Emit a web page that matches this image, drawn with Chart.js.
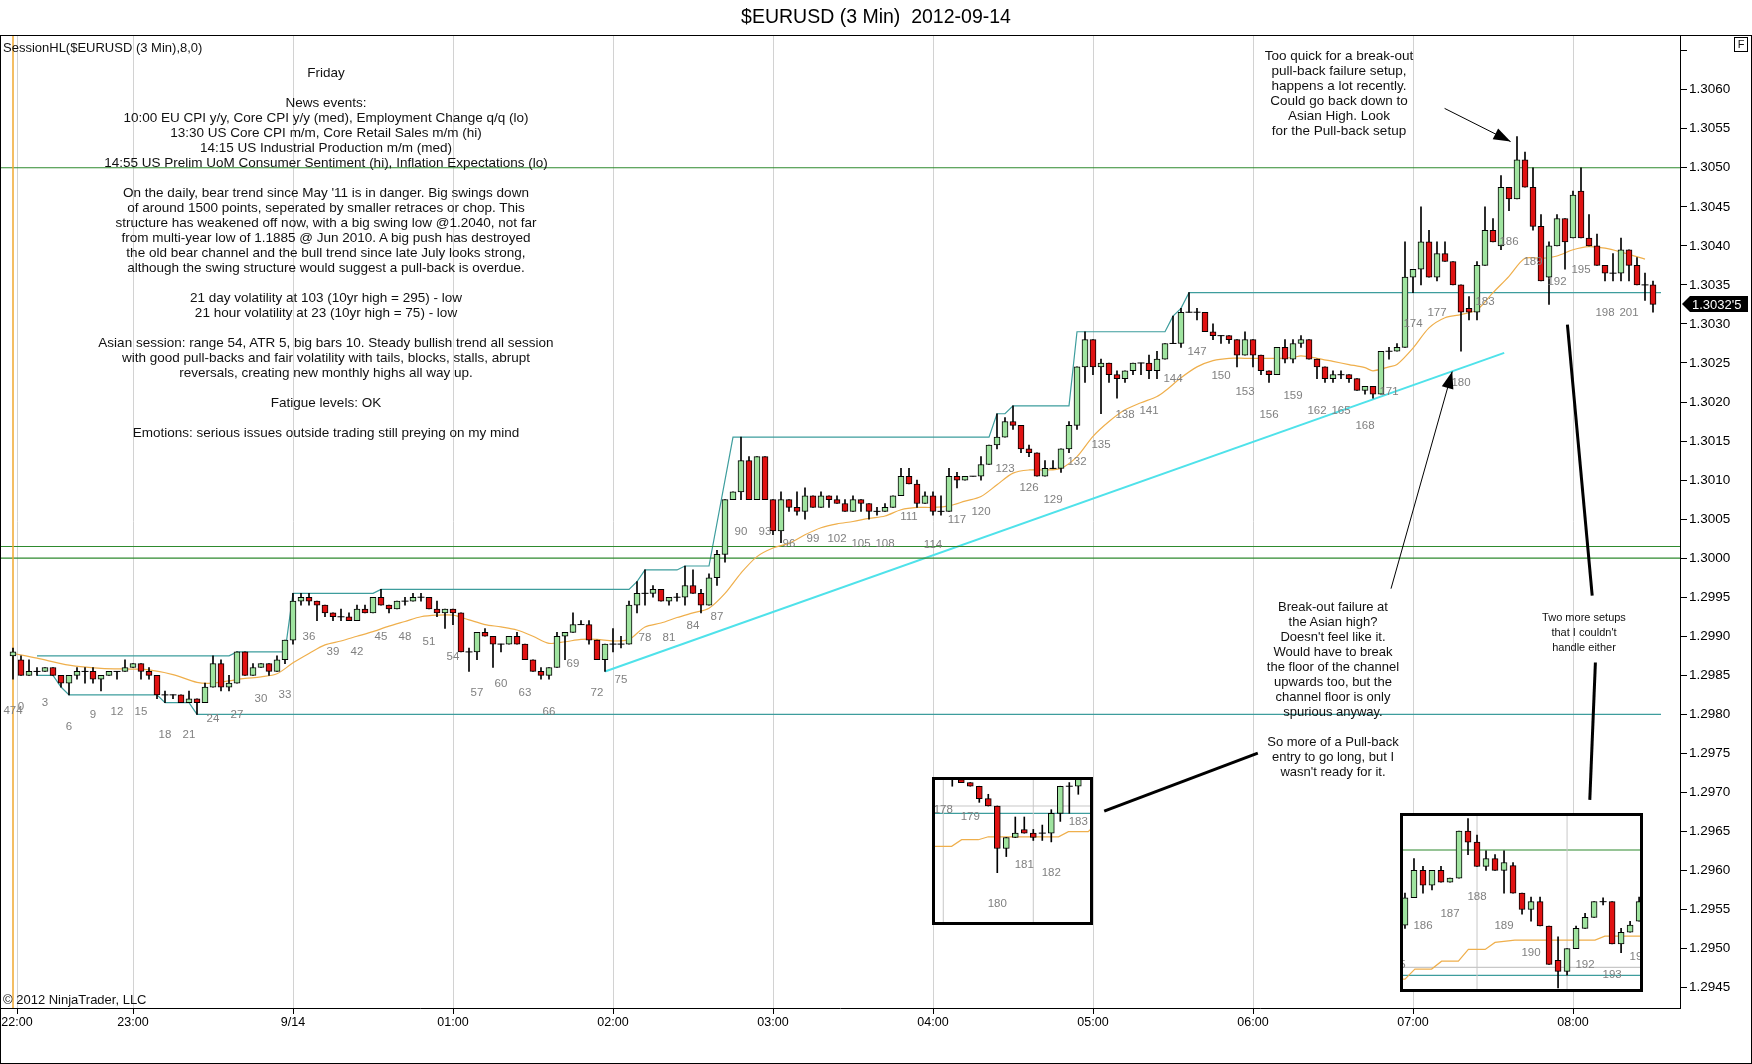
<!DOCTYPE html>
<html>
<head>
<meta charset="utf-8">
<script src="https://cdn.jsdelivr.net/npm/chart.js@4.4.1/dist/chart.umd.min.js"></script>
<style>
html,body{margin:0;padding:0;background:#fff;}
body{width:1752px;height:1064px;position:relative;overflow:hidden;font-family:Arial,"Liberation Sans",sans-serif;color:#111;}
#main{position:absolute;left:0;top:0;}
#frame{position:absolute;left:0;top:35px;width:1752px;height:1029px;box-sizing:border-box;border:1px solid #000;pointer-events:none;}
.t{position:absolute;font-size:13px;line-height:15px;white-space:pre;}
.note{position:absolute;font-size:13px;line-height:15px;text-align:center;white-space:pre;transform:translateX(-50%);}
#title{position:absolute;left:0;top:4px;width:1752px;text-align:center;font-size:19.5px;line-height:24px;white-space:pre;color:#000;}
#fbox{position:absolute;left:1734px;top:37px;width:14px;height:15px;box-sizing:border-box;border:1px solid #000;font-size:11px;line-height:13px;text-align:center;}
.inset{position:absolute;box-sizing:border-box;border:3px solid #000;background:#fff;}
.inset canvas{display:block;}
</style>
</head>
<body>
<canvas id="main" width="1752" height="1064"></canvas>
<div id="frame"></div>
<div id="title">$EURUSD (3 Min)  2012-09-14</div>
<div id="fbox">F</div>
<div class="t" style="left:3px;top:40px;">SessionHL($EURUSD (3 Min),8,0)</div>
<div class="t" style="left:3px;top:992px;">© 2012 NinjaTrader, LLC</div>

<div class="note" style="left:326px;top:65px;font-size:13.5px;">Friday

News events:
10:00 EU CPI y/y, Core CPI y/y (med), Employment Change q/q (lo)
13:30 US Core CPI m/m, Core Retail Sales m/m (hi)
14:15 US Industrial Production m/m (med)
14:55 US Prelim UoM Consumer Sentiment (hi), Inflation Expectations (lo)

On the daily, bear trend since May '11 is in danger. Big swings down
of around 1500 points, seperated by smaller retraces or chop. This
structure has weakened off now, with a big swing low @1.2040, not far
from multi-year low of 1.1885 @ Jun 2010. A big push has destroyed
the old bear channel and the bull trend since late July looks strong,
although the swing structure would suggest a pull-back is overdue.

21 day volatility at 103 (10yr high = 295) - low
21 hour volatility at 23 (10yr high = 75) - low

Asian session: range 54, ATR 5, big bars 10. Steady bullish trend all session
with good pull-backs and fair volatility with tails, blocks, stalls, abrupt
reversals, creating new monthly highs all way up.

Fatigue levels: OK

Emotions: serious issues outside trading still preying on my mind</div>

<div class="note" style="left:1339px;top:48px;font-size:13.5px;">Too quick for a break-out
pull-back failure setup,
happens a lot recently.
Could go back down to
Asian High. Look
for the Pull-back setup</div>

<div class="note" style="left:1333px;top:599px;">Break-out failure at
the Asian high?
Doesn't feel like it.
Would have to break
the floor of the channel
upwards too, but the
channel floor is only
spurious anyway.

So more of a Pull-back
entry to go long, but I
wasn't ready for it.</div>

<div class="note" style="left:1584px;top:610px;font-size:11px;">Two more setups
that I couldn't
handle either</div>

<div class="inset" style="left:932px;top:777px;width:161px;height:148px;"><canvas id="inset1" width="155" height="142"></canvas></div>
<div class="inset" style="left:1400px;top:813px;width:243px;height:179px;"><canvas id="inset2" width="237" height="173"></canvas></div>

<script>
// prices are noted in pips above 1.3000
const PIP = 0.0001, BASE = 1.3;
const px = p => +(BASE + p * PIP).toFixed(6);
const FONT = 'Arial, "Liberation Sans", sans-serif';
const UP = '#9fe39f', DOWN = '#e01212';

// === 3 min bars, first one is bar 474 of the previous session (drawn at -1) ===
const PREV_LAST = 474;
const open = [
  -12.5,-13,-15,-14.5,-14.5,-14,-15,-16,-15,-14.5,
  -14.5,-15.5,-15,-14.5,-14.5,-14,-13.5,-14.5,-15,-17.5,
  -17.5,-17.5,-18.5,-18,-18.5,-16.5,-13.5,-16.5,-16,-12,
  -15,-14,-13.5,-14.5,-13,-10.5,-5.5,-5,-5.5,-6,
  -7,-7.5,-7.5,-8,-6.5,-7,-5,-6,-6.5,-5.5,
  -5.5,-5,-5,-6.5,-7,-6.5,-7,-12,-12,-9.5,
  -10,-11,-11,-10,-11,-13,-14.5,-15,-14,-10,
  -9.5,-8.5,-8.5,-10.5,-13,-11,-11,-11,-6,-4.5,
  -4.5,-4,-5.5,-5,-5,-3.5,-4.5,-6,-2.5,0.5,
  7.5,8.5,12.5,7.5,13,7.5,3.5,7.5,6.5,6,
  8,6.5,8,7.5,7,6,7.5,7,6,6,
  6.5,8,10.5,9.5,7,8,6,6,10.5,10,
  10.5,10.5,12,14.5,15.5,17.5,17,14,13.5,10.5,
  11.5,11.5,14,17,24.5,28,24.5,25,23.5,23,
  24,25,25,24,25.5,27.5,27.5,31.5,31.5,31.5,
  29,28.5,28.5,28,26,28,26,24,23.5,27,
  25.5,27.5,28,25.5,24.5,23,23.5,23.5,23,21.5,
  22,21,26.5,26.5,27,36,37,40.5,36,39,
  38,35,32,31.5,37.5,42,40,47.5,46,51,
  47.5,42.5,36,40,43.5,41,47,41,40,37.5,
  36.5,36.5,39.5,37.5,35,35
];
const high = [
  -11.5,-12.5,-13,-14,-14,-14,-15,-15,-14,-14,
  -14,-15,-14.5,-14.5,-13,-13.5,-13.5,-14,-15,-17,
  -17.5,-17.5,-17,-18,-16,-12.5,-13,-15,-12,-12,
  -13.5,-13.5,-13.5,-12.5,-10.5,-4.5,-4.5,-4.5,-5.5,-6,
  -7,-6.5,-7,-6,-6,-5,-4,-6,-5.5,-5,
  -4.5,-4.5,-5,-5.5,-6.5,-6.5,-7,-11.5,-9.5,-9,
  -10,-11,-10,-9.5,-11,-13,-14,-14,-9.5,-9.5,
  -7,-8,-8,-10.5,-11,-9,-10,-5.5,-3,-1.5,
  -3.5,-4,-5,-4.5,-1,-1.5,-4,-2,1,7.5,
  8.5,15.5,13,13,13,7.5,8.5,7.5,8.5,9,
  8,8.5,8,8,7.5,8,7.5,7,6.5,7,
  8,11.5,11.5,10,8.5,8.5,8,11.5,11,10.5,
  10.5,13,14.5,18.5,18,19.5,17,14.5,13.5,12.5,
  12.5,14,17.5,24.5,29,28,25.5,25,24,24,
  25,25,26,26.5,27.5,31,32,34,32,31.5,
  30,28.5,28.5,28,29,28,26,24,27,28,
  28,28.5,28,25.5,24.5,24,24,23.5,23,22,
  22,26.5,27,27.5,40.5,37,45,42,40.5,40.5,
  38,35,33.5,38,45,43.5,49,47.5,54,52,
  50,44,40.5,44,43.5,47,50,44,41.5,37.5,
  39,41,39.5,38.5,36.5,35.5
];
const low = [
  -15.5,-15,-15,-15,-14.5,-15,-16.5,-17.5,-15.5,-16,
  -16,-17,-15,-15.5,-14.5,-14,-15.5,-15.5,-18,-18.5,
  -18,-18.5,-18.5,-20,-18.5,-16.5,-17,-17,-16,-15,
  -15,-14,-15,-14.5,-13.5,-11,-6,-6,-8,-7.5,
  -8,-8,-8,-8,-7,-7,-6,-7,-6.5,-6,
  -5.5,-5.5,-6.5,-7.5,-9,-8.5,-12,-14.5,-13,-10,
  -14,-12,-11,-11,-13,-14.5,-15.5,-15.5,-14,-13,
  -9.5,-8.5,-11,-13,-14.5,-12,-11.5,-11,-7,-6,
  -5,-5.5,-6,-5.5,-6,-4.5,-7,-6,-3.5,-0.5,
  7.5,7.5,7.5,7.5,7.5,3,2,6,5.5,5,
  6.5,6.5,6.5,7,6,6,6,5,5.5,6,
  6.5,8,9.5,6.5,7,5.5,5.5,6,9,10,
  10.5,10,12,14,15.5,16.5,13.5,13,10.5,10.5,
  11.5,11,13.5,16.5,22.5,23.5,18.5,22.5,20.5,22.5,
  23.5,23.5,23,23,25.5,27.5,27,31.5,30.5,29,
  28,27.5,27.5,24.5,26,24.5,23.5,22.5,23.5,25,
  25,27,25.5,23,22.5,22.5,23,22.5,21.5,21,
  20.5,21,25.5,26.5,27,34,35,36,35.5,38,
  35,26.5,30.5,30.5,37.5,40.5,39.5,44.5,46,47.5,
  42,35.5,32.5,40,37,41,41,40,37.5,35.5,
  35.5,35.5,35.5,35,33,31.5
];
const close = [
  -12,-15,-14.5,-14.5,-14,-15,-16,-15,-14.5,-14.5,
  -15.5,-15,-14.5,-14.5,-14,-13.5,-14.5,-15,-17.5,-17.5,
  -17.5,-18.5,-18,-18.5,-16.5,-13.5,-16.5,-16,-12,-15,
  -14,-13.5,-14.5,-13,-10.5,-5.5,-5,-5.5,-6,-7,
  -7.5,-7.5,-8,-6.5,-7,-5,-6,-6.5,-5.5,-5.5,
  -5,-5,-6.5,-7,-6.5,-7,-12,-12,-9.5,-10,
  -11,-11,-10,-11,-13,-14.5,-15,-14,-10,-9.5,
  -8.5,-8.5,-10.5,-13,-11,-11,-11,-6,-4.5,-4.5,
  -4,-5.5,-5,-5,-3.5,-4.5,-6,-2.5,0.5,7.5,
  8.5,12.5,7.5,13,7.5,3.5,7.5,6.5,6,8,
  6.5,8,7.5,7,6,7.5,7,6,6,6.5,
  8,10.5,9.5,7,8,6,6,10.5,10,10.5,
  10.5,12,14.5,15.5,17.5,17,14,13.5,10.5,11.5,
  11.5,14,17,24.5,28,24.5,25,23.5,23,24,
  25,25,24,25.5,27.5,27.5,31.5,31.5,31.5,29,
  28.5,28.5,28,26,28,26,24,23.5,27,25.5,
  27.5,28,25.5,24.5,23,23.5,23.5,23,21.5,22,
  21,26.5,26.5,27,36,37,40.5,36,39,38,
  35,31.5,31.5,37.5,42,40.5,47.5,46,51,47.5,
  42.5,35.5,40,43.5,40.5,46.5,41,40,37.5,36.5,
  36.5,39.5,37.5,35,35,32.5
];

// bar-count labels (every 3rd bar) and where they sit
const labelNums = [474,0,3,6,9,12,15,18,21,24,27,30,33,36,39,42,45,48,51,54,57,60,63,66,69,72,75,78,81,84,87,90,93,96,99,102,105,108,111,114,117,120,123,126,129,132,135,138,141,144,147,150,153,156,159,162,165,168,171,174,177,180,183,186,189,192,195,198,201];
const labelPips = [-19.5,-19,-18.5,-21.6,-20,-19.7,-19.7,-22.6,-22.6,-20.6,-20,-18,-17.5,-10.1,-12,-12,-10.1,-10.1,-10.7,-12.6,-17.2,-16.1,-17.2,-19.7,-13.5,-17.2,-15.6,-10.2,-10.2,-8.6,-7.5,3.4,3.4,1.9,2.5,2.5,1.9,1.9,5.3,1.7,4.9,6,11.5,9,7.5,12.4,14.5,18.4,18.9,23,26.4,23.4,21.3,18.4,20.8,18.9,18.9,17,21.3,30,31.4,22.5,32.8,40.5,38,35.4,36.9,31.4,31.4];

// orange moving average, read every couple of bars
const emaBars = [-1,2,6,10,14,16,19,22,24,26,28,30,32,34,36,38,40,42,44,46,48,50,52,54,56,58,60,62,64,66,68,70,72,74,76,78,80,82,84,86,88,90,92,94,96,98,100,102,104,106,108,110,112,114,116,118,120,122,124,126,128,130,132,134,136,138,140,142,143,145,147,149,151,153,155,157,159,160,162,164,166,168,169,171,172,174,176,178,180,182,184,186,188,190,192,194,196,198,200,203];
const emaPips = [-12.2,-12.8,-13.7,-14.1,-14.2,-14.3,-14.9,-15.9,-16.0,-15.7,-15.4,-15.2,-14.8,-13.4,-12.2,-11.1,-10.6,-10.0,-9.4,-8.7,-8.1,-7.5,-7.3,-7.3,-7.9,-8.5,-8.8,-9.2,-10.0,-10.9,-10.7,-10.4,-10.4,-10.6,-10.4,-8.8,-8.3,-7.6,-7.0,-6.4,-4.5,-1.9,0.2,1.3,1.9,3.0,3.9,4.4,4.7,5.1,5.4,6.2,6.5,6.5,6.7,7.3,7.9,9.4,10.9,11.3,11.3,11.5,13.0,15.6,17.5,19.0,19.9,20.7,21.4,23.1,24.5,25.3,25.6,25.6,25.6,25.6,25.7,25.9,25.6,25.2,24.8,24.4,24.0,24.5,24.8,26.9,29.5,30.8,31.2,31.8,34.0,36.1,38.4,38.4,38.7,39.5,39.9,39.7,39.2,38.3];

// SessionHL steps (Asian session high / low)
const hiBars = [2,26,27,33,34,44,45,76,77,78,82,83,86,89,121,122,123,124,131,132,143,144,145,146,205];
const hiPips = [-12.5,-12.5,-12,-12,-4.5,-4.5,-4,-4,-3,-1.5,-1.5,-1,-1,15.5,15.5,18.5,18.5,19.5,19.5,29,29,31,32,34,34];
const loBars = [2,4,5,6,17,18,21,22,205];
const loPips = [-15,-15,-16.5,-17.5,-17.5,-18.5,-18.5,-20,-20];

const greenLevels = [50, 1.5, 0];          // 1.3050, 1.30015, 1.3000
const trendBars = [73, 185.4];             // channel floor
const trendPips = [-14.5, 26.3];

const xTickBars = [-0.5,14,34,54,74,94,114,134,154,174,194];
const xTickLabels = ['22:00','23:00','9/14','01:00','02:00','03:00','04:00','05:00','06:00','07:00','08:00'];
const yTickPips = [-55,-50,-45,-40,-35,-30,-25,-20,-15,-10,-5,0,5,10,15,20,25,30,35,40,45,50,55,60,65];
const yTickLabels = ['1.2945','1.2950','1.2955','1.2960','1.2965','1.2970','1.2975','1.2980','1.2985','1.2990','1.2995','1.3000','1.3005','1.3010','1.3015','1.3020','1.3025','1.3030','1.3035','1.3040','1.3045','1.3050','1.3055','1.3060',''];

// === inset 1 (lower timeframe around bars 178-183) ===
const in1Open  = [40,38.6,38.2,37.7,36,35,29.2,30.7,31.8,31.3,31.3,31.3,34,37.7,37.7];
const in1High  = [40,38.6,38.2,37.7,36.6,35,30.7,33.5,33.5,31.8,32.4,34.5,37.7,38.2,39];
const in1Low   = [37.7,38.2,37.7,35.5,35,25.9,28.1,30.7,31.3,30.3,30.3,30.1,32.9,34,36.6];
const in1Close = [39,38.2,37.7,36,35,29.2,30.7,31.3,31.3,30.7,31.3,34,37.7,37.7,38.8];
const in1EmaK = [-0.93,0.93,2.04,3.9,5.0,12.8,13.9,16.1,16.5];
const in1EmaPips = [29.5,29.5,30.4,30.4,30.8,30.8,31.5,31.5,32.0];
const in1LabelNums = [178,179,180,181,182,183];
const in1LabelK = [0,3,6,9,12,15];
const in1LabelPips = [34.5,33.5,21.7,27.0,25.9,32.9];

// === inset 2 (lower timeframe around bars 185-194) ===
const in2Open  = [40.4,43.9,47.4,45.5,47.4,45.9,46.4,52.4,51,47.9,48.9,47.4,48,44.5,42.4,43.4,40.3,35.9,34.5,37.4,40,41.4,43.4,43.4,38,39.5,40.9];
const in2High  = [44.5,48.9,47.9,47.4,47.9,46.4,52.4,54,51.9,49.9,49.4,49.9,48.4,44.5,44,44,40.3,38.9,37.4,40.3,41.9,43.4,43.9,43.4,40,40.9,44];
const in2Low   = [40,43.9,44.5,44.9,45.9,45.9,46.4,49.4,47.9,47.4,47.4,44.5,44.5,41.8,40.9,40.3,35.4,32.4,34,37.4,40,41.4,43,38,36.9,39.5,40.9];
const in2Close = [43.9,47.4,45.5,47.4,45.9,46.4,52.4,51,47.9,48.9,47.4,48.4,44.5,42.4,43.4,40.3,35.4,34.5,37.4,40,41.4,43.4,43.4,38,39.5,40.4,43.4];
const in2EmaK = [0.6,1.0,2.1,3.96,5.07,6.93,8.04,9.9,11.0,13.2,22.1,23.2,27.3];
const in2EmaPips = [33.5,33.5,34.8,34.8,35.8,35.8,37.3,37.3,38.2,38.5,38.5,39.0,39.0];
const in2LabelNums = [185,186,187,188,189,190,192,193,194];
const in2LabelK = [0,3,6,9,12,15,21,24,27];
const in2LabelPips = [35.4,40.3,41.9,44.0,40.3,36.9,35.3,34.0,36.4];

// === helpers ===
function candleSets(O, H, L, C, xOf, w){
  const body=[], bodyCol=[], doji=[], wick=[];
  O.forEach((o,i)=>{
    const x = xOf(i);
    wick.push({x, y:[px(L[i]), px(H[i])]});
    if(o===C[i]) doji.push({x, y:px(o)});
    else { body.push({x, y:[px(o), px(C[i])]}); bodyCol.push(C[i]>o ? UP : DOWN); }
  });
  return [
    {type:'bar', data:body, backgroundColor:bodyCol, borderColor:'#000', borderWidth:1, borderSkipped:false, barThickness:w, grouped:false, order:1},
    {type:'scatter', data:doji, pointStyle:'line', pointRadius:w/2+0.5, borderColor:'#000', borderWidth:1, order:1},
    {type:'bar', data:wick, backgroundColor:'#000', barThickness:1, grouped:false, order:2}
  ];
}
function lineSet(xs, ys, color, width, extra){
  return Object.assign({type:'line', data:xs.map((x,i)=>({x, y:px(ys[i])})), borderColor:color, borderWidth:width,
    pointRadius:0, fill:false, tension:0, order:5}, extra||{});
}
function textLabels(ctx, xs, ys, nums, x, y){
  ctx.save();
  ctx.font = '11.5px '+FONT; ctx.fillStyle = '#808080';
  ctx.textAlign = 'center'; ctx.textBaseline = 'middle';
  nums.forEach((n,i)=>ctx.fillText(String(n), x.getPixelForValue(xs[i]), y.getPixelForValue(px(ys[i]))));
  ctx.restore();
}
function arrow(ctx, a, b, w, head){
  ctx.save();
  ctx.strokeStyle = '#000'; ctx.fillStyle = '#000'; ctx.lineWidth = w;
  ctx.beginPath(); ctx.moveTo(a[0],a[1]); ctx.lineTo(b[0],b[1]); ctx.stroke();
  if(head){
    const t = Math.atan2(b[1]-a[1], b[0]-a[0]), L = 17, W = 6;
    ctx.beginPath(); ctx.moveTo(b[0],b[1]);
    ctx.lineTo(b[0]-L*Math.cos(t)+W*Math.sin(t), b[1]-L*Math.sin(t)-W*Math.cos(t));
    ctx.lineTo(b[0]-L*Math.cos(t)-W*Math.sin(t), b[1]-L*Math.sin(t)+W*Math.cos(t));
    ctx.closePath(); ctx.fill();
  }
  ctx.restore();
}

const X_MIN = -2.625, X_MAX = 207.375;
const barX = i => i - 1;

// === main chart ===
const overlay = {
  id:'overlay',
  afterDatasetsDraw(chart){
    const {ctx, scales:{x, y}} = chart;
    textLabels(ctx, labelNums.map(n=>n===PREV_LAST ? -1 : n), labelPips, labelNums, x, y);
    const P = (b,p)=>[x.getPixelForValue(b), y.getPixelForValue(px(p))];
    arrow(ctx, P(177.95,57.6), P(186.2,53.35), 1, true);
    arrow(ctx, P(171.25,-3.9), P(178.9,23.9), 1, true);
    arrow(ctx, P(135.4,-32.4), P(154.6,-24.95), 3, false);
    arrow(ctx, P(193.3,29.9), P(196.4,-4.8), 3, false);
    arrow(ctx, P(196.8,-13.35), P(196.1,-30.95), 3, false);
  },
  afterDraw(chart){
    const {ctx, chartArea, scales:{y}} = chart;
    const last = close[close.length-1];
    const yy = Math.round(y.getPixelForValue(px(last)));
    const x0 = chartArea.right + 1;
    ctx.save();
    ctx.fillStyle = '#000';
    ctx.beginPath();
    ctx.moveTo(x0+1, yy); ctx.lineTo(x0+9, yy-8); ctx.lineTo(1748, yy-8); ctx.lineTo(1748, yy+8); ctx.lineTo(x0+9, yy+8);
    ctx.closePath(); ctx.fill();
    const s = px(last).toFixed(5);
    ctx.fillStyle = '#fff'; ctx.font = '13px '+FONT; ctx.textBaseline = 'middle'; ctx.textAlign = 'left';
    ctx.fillText(s.slice(0,6)+"'"+s.slice(6), x0+11, yy+1);
    ctx.restore();
  }
};

const mainSets = [
  lineSet([-1,-1], [-70,80], '#f0a830', 1.5),
  ...greenLevels.map(l=>lineSet([X_MIN,X_MAX], [l,l], '#2e8a2e', 1.2)),
  lineSet(hiBars, hiPips, '#3d9d9d', 1.2),
  lineSet(loBars, loPips, '#3d9d9d', 1.2),
  lineSet(trendBars, trendPips, '#4fe2ea', 2),
  lineSet(emaBars, emaPips, '#efaf4c', 1.2, {tension:0.3, order:4}),
  ...candleSets(open, high, low, close, barX, 6)
];

new Chart(document.getElementById('main'), {
  type:'bar',
  data:{datasets:mainSets},
  options:{
    responsive:false, animation:false, events:[],
    layout:{autoPadding:false, padding:{top:35, left:0, right:0, bottom:0}},
    plugins:{legend:{display:false}, tooltip:{enabled:false}},
    scales:{
      x:{type:'linear', min:X_MIN, max:X_MAX, offset:false, bounds:'data',
        grid:{offset:false, color:'#d2d2d2', tickColor:'#000', tickLength:6},
        border:{display:true, color:'#000'},
        afterBuildTicks:s=>{ s.ticks = xTickBars.map(v=>({value:v})); },
        ticks:{autoSkip:false, maxRotation:0, padding:1, color:'#000', font:{family:FONT, size:12.5}, callback:(v,i)=>xTickLabels[i]},
        afterFit:s=>{ s.height = 56; s.paddingLeft = 0; s.paddingRight = 0; }},
      y:{type:'linear', position:'right', min:px(-57.6), max:px(67.0), bounds:'data', beginAtZero:false,
        grid:{drawOnChartArea:false, tickColor:'#000', tickLength:7},
        border:{display:true, color:'#000'},
        afterBuildTicks:s=>{ s.ticks = yTickPips.map(p=>({value:px(p)})); },
        ticks:{padding:2, color:'#000', font:{family:FONT, size:13.5}, callback:(v,i)=>yTickLabels[i]},
        afterFit:s=>{ s.width = 72; s.paddingTop = 0; s.paddingBottom = 0; }}
    }
  },
  plugins:[overlay]
});

// === insets ===
function inset(id, O, H, L, C, emaK, emaP, labK, labP, labN, kRange, pRange, levels, vLines){
  const sets = [
    ...vLines.map(k=>lineSet([k,k], [0,80], '#c8c8c8', 1)),
    ...levels.map(l=>lineSet([kRange[0],kRange[1]], [l[0],l[0]], l[1], 1.2)),
    lineSet(emaK, emaP, '#efaf4c', 1.2, {order:4}),
    ...candleSets(O, H, L, C, i=>i+1, 6)
  ];
  new Chart(document.getElementById(id), {
    type:'bar',
    data:{datasets:sets},
    options:{
      responsive:false, animation:false, events:[],
      layout:{autoPadding:false, padding:0},
      plugins:{legend:{display:false}, tooltip:{enabled:false}},
      scales:{
        x:{type:'linear', display:false, min:kRange[0], max:kRange[1], offset:false, bounds:'data'},
        y:{type:'linear', display:false, min:px(pRange[0]), max:px(pRange[1]), bounds:'data', beginAtZero:false}
      }
    },
    plugins:[{id:'lab', afterDatasetsDraw(c){ textLabels(c.ctx, labK, labP, labN, c.scales.x, c.scales.y); }}]
  });
}
inset('inset1', in1Open, in1High, in1Low, in1Close, in1EmaK, in1EmaPips, in1LabelK, in1LabelPips, in1LabelNums,
  [-0.92, 16.3], [19.17, 38.55], [[35,'#c8c8c8'],[34,'#3d9d9d']], [0,10]);
inset('inset2', in2Open, in2High, in2Low, in2Close, in2EmaK, in2EmaPips, in2LabelK, in2LabelPips, in2LabelNums,
  [0.78, 27.1], [32.25, 54.34], [[50,'#2e8a2e'],[35,'#c8c8c8'],[34,'#3d9d9d']], [9,19]);
</script>
</body>
</html>
